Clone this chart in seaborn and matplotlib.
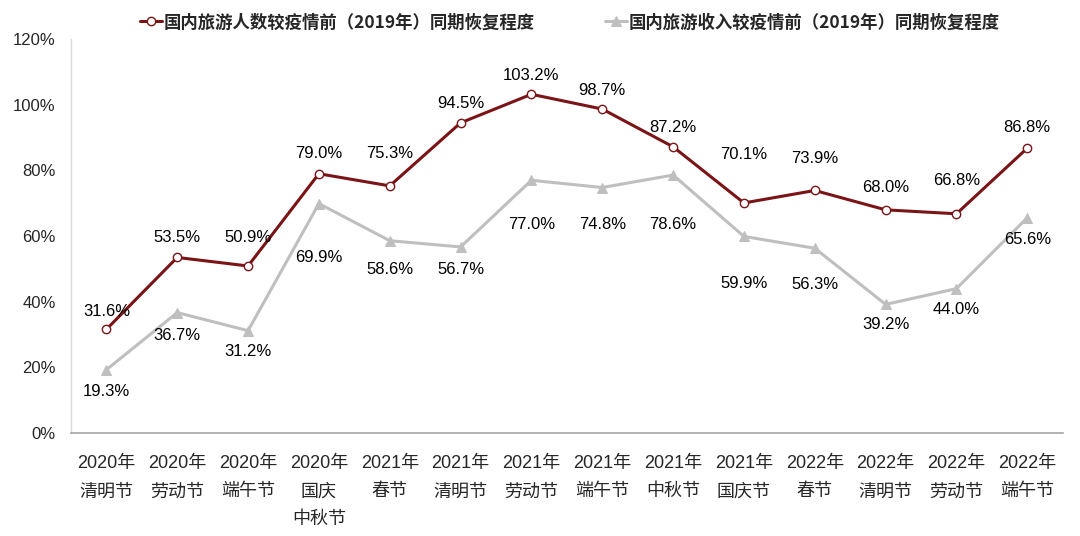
import matplotlib
matplotlib.use('Agg')
import matplotlib.pyplot as plt
import seaborn as sns
import pandas as pd
import numpy as np

# categories and values
holidays = ['2020年\n清明节', '2020年\n劳动节', '2020年\n端午节', '2020年\n国庆\n中秋节',
            '2021年\n春节', '2021年\n清明节', '2021年\n劳动节', '2021年\n端午节',
            '2021年\n中秋节', '2021年\n国庆节', '2022年\n春节', '2022年\n清明节',
            '2022年\n劳动节', '2022年\n端午节']
trips = [31.6, 53.5, 50.9, 79.0, 75.3, 94.5, 103.2, 98.7, 87.2, 70.1, 73.9, 68.0, 66.8, 86.8]
revenue = [19.3, 36.7, 31.2, 69.9, 58.6, 56.7, 77.0, 74.8, 78.6, 59.9, 56.3, 39.2, 44.0, 65.6]
trips_name = '国内旅游人数较疫情前（2019年）同期恢复程度'
revenue_name = '国内旅游收入较疫情前（2019年）同期恢复程度'

# label offsets in pixels (layout only)
trips_dy = [18, 20, 28, 20, 32, 19, 19, 19, 19, 48, 32, 22, 33, 21]
revenue_dy = [-22, -23, -21, -54, -29, -23, -44, -37, -49, -47, -36, -20, -21, -22]

sns.set_style('white')
plt.rcParams['font.family'] = ['Liberation Sans', 'Noto Sans CJK SC', 'DejaVu Sans']

red = '#7A1417'
gray = '#BFBFBF'

df = pd.DataFrame({'x': np.arange(len(holidays)), 'trips': trips, 'revenue': revenue})

fig = plt.figure(figsize=(10.8, 5.36), dpi=100)
ax = fig.add_axes([0.0657, 0.192, 0.9183, 0.735])

sns.lineplot(data=df, x='x', y='trips', ax=ax, color=red, linewidth=2.2,
             marker='o', markersize=6, markerfacecolor='white', markeredgecolor=red,
             markeredgewidth=1.0, label=trips_name)
sns.lineplot(data=df, x='x', y='revenue', ax=ax, color=gray, linewidth=2.2,
             marker='^', markersize=6.5, markerfacecolor=gray, markeredgecolor=gray,
             label=revenue_name)

for i in range(len(holidays)):
    ax.annotate(f'{trips[i]:.1f}%', (i, trips[i]), xytext=(0, trips_dy[i]),
                textcoords='offset pixels', ha='center', va='center', fontsize=12, color='black')
    ax.annotate(f'{revenue[i]:.1f}%', (i, revenue[i]), xytext=(0, revenue_dy[i]),
                textcoords='offset pixels', ha='center', va='center', fontsize=12, color='black')

ax.set_xlim(-0.5, len(holidays) - 0.5)
ax.set_ylim(0, 120)
ax.set_yticks(range(0, 121, 20))
ax.set_yticklabels([f'{v}%' for v in range(0, 121, 20)], fontsize=12)
ax.set_xticks(range(len(holidays)))
ax.set_xticklabels(holidays, fontsize=13, linespacing=1.85)
ax.set_xticks(np.arange(-0.5, len(holidays), 1), minor=True)
ax.tick_params(axis='x', which='major', length=0, pad=16)
ax.tick_params(axis='x', which='minor', length=5, color='#A6A6A6', direction='out')
ax.tick_params(axis='y', length=0, pad=11)
ax.set_xlabel('')
ax.set_ylabel('')

for s in ['top', 'right']:
    ax.spines[s].set_visible(False)
ax.spines['left'].set_color('#D9D9D9')
ax.spines['bottom'].set_color('#A6A6A6')
ax.spines['left'].set_linewidth(1.0)
ax.spines['bottom'].set_linewidth(1.2)

leg = ax.legend(loc='upper center', bbox_to_anchor=(0.503, 1.105), ncol=2, frameon=False,
                handlelength=1.3, handletextpad=0.1, columnspacing=4.0,
                prop={'family': ['Noto Sans CJK SC'], 'weight': 'bold', 'size': 12.5})

fig.savefig('out.png', dpi=100)
